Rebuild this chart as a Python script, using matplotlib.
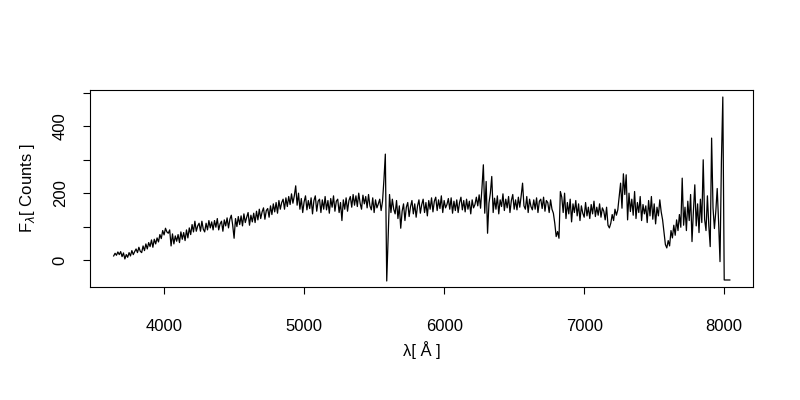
"""Spectrum plot: flux in counts versus wavelength, R-base-graphics look."""

import numpy as np
import matplotlib
matplotlib.use("Agg")
import matplotlib.pyplot as plt

plt.rcParams["font.family"] = ["Liberation Sans", "DejaVu Sans"]

# wavelength grid (Angstrom) and flux (counts),
# one row per 100 A starting at 3640
WL_START, WL_STEP = 3640, 10
flux = [
    12, 20, 14, 24, 16, 25, 10, 21, 3, 16,                 # 3640
    8, 22, 12, 28, 16, 25, 33, 22, 38, 26,                 # 3740
    22, 42, 28, 48, 33, 52, 40, 60, 38, 62,                # 3840
    48, 66, 54, 76, 64, 88, 75, 95, 84, 80,                # 3940
    90, 42, 78, 48, 72, 56, 76, 52, 84, 62,                # 4040
    82, 58, 90, 66, 96, 76, 106, 84, 116, 86,              # 4140
    102, 110, 86, 116, 92, 84, 110, 90, 118, 96,           # 4240
    114, 90, 118, 98, 124, 90, 108, 116, 86, 120,          # 4340
    102, 126, 96, 122, 134, 104, 65, 124, 100, 130,        # 4440
    106, 132, 102, 138, 112, 128, 142, 104, 134, 114,      # 4540
    140, 112, 146, 120, 152, 124, 144, 156, 122, 148,      # 4640
    154, 128, 162, 136, 168, 144, 172, 140, 178, 152,      # 4740
    172, 182, 152, 186, 160, 190, 166, 198, 170, 192,      # 4840
    222, 164, 200, 152, 184, 142, 174, 192, 150, 178,      # 4940
    154, 186, 138, 178, 192, 146, 176, 182, 142, 180,      # 5040
    152, 190, 150, 178, 140, 184, 158, 192, 146, 176,      # 5140
    182, 142, 172, 118, 180, 152, 186, 146, 178, 190,      # 5240
    158, 196, 164, 192, 160, 200, 170, 152, 194, 168,      # 5340
    190, 156, 196, 162, 150, 186, 142, 180, 156, 168,      # 5440
    182, 148, 176, 240, 317, -63, 65, 196, 142, 182,       # 5540
    152, 138, 178, 124, 162, 95, 146, 168, 118, 158,       # 5640
    172, 130, 160, 178, 138, 168, 128, 162, 180, 140,      # 5740
    166, 182, 142, 172, 132, 178, 152, 186, 144, 176,      # 5840
    188, 148, 180, 154, 192, 142, 178, 156, 166, 184,      # 5940
    152, 186, 140, 176, 148, 180, 142, 172, 188, 150,      # 6040
    178, 144, 182, 152, 176, 138, 180, 156, 166, 188,      # 6140
    162, 195, 155, 215, 285, 140, 235, 80, 170, 200,       # 6240
    250, 142, 185, 152, 192, 138, 180, 160, 198, 148,      # 6340
    182, 156, 190, 142, 178, 196, 152, 180, 150, 188,      # 6440
    158, 192, 230, 162, 152, 190, 142, 182, 160, 150,      # 6540
    180, 152, 186, 142, 176, 182, 154, 188, 146, 178,      # 6640
    172, 142, 180, 152, 140, 110, 70, 85, 65, 205,         # 6740
    188, 142, 200, 124, 172, 138, 182, 114, 168, 142,      # 6840
    178, 132, 168, 118, 162, 140, 128, 172, 132, 158,      # 6940
    124, 166, 138, 176, 130, 158, 134, 168, 128, 156,      # 7040
    146, 120, 158, 104, 96, 110, 136, 118, 152, 134,       # 7140
    150, 190, 230, 155, 258, 196, 255, 120, 200, 145,      # 7240
    182, 134, 205, 124, 172, 142, 190, 118, 166, 138,      # 7340
    162, 112, 178, 132, 190, 122, 168, 108, 158, 132,      # 7440
    180, 144, 120, 84, 46, 36, 58, 42, 88, 66,             # 7540
    104, 74, 120, 88, 136, 98, 245, 104, 158, 88,          # 7640
    176, 118, 196, 55, 146, 225, 102, 168, 82, 182,        # 7740
    112, 300, 122, 88, 192, 102, 40, 365, 156, 94,         # 7840
    146, 214, 112, -5, 296, 488,                           # 7940
    -60, -60, -60, -60, -60,                               # 8000 (flat tail)
]
wavelength = WL_START + WL_STEP * np.arange(len(flux))

x_ticks = [4000, 5000, 6000, 7000, 8000]
y_ticks = [0, 100, 200, 300, 400, 500]
y_tick_labels = ["0", "", "200", "", "400", ""]

fig = plt.figure(figsize=(8, 4), dpi=100)
ax = fig.add_axes([0.1125, 0.2825, 0.829, 0.4925])
ax.plot(wavelength, flux, color="black", lw=0.9)

ax.set_xlim(3471, 8207)
ax.set_ylim(-81, 509)
ax.set_xticks(x_ticks)
ax.set_yticks(y_ticks)
ax.set_yticklabels(y_tick_labels, rotation=90, va="center")
ax.tick_params(direction="out", length=5, width=0.8, labelsize=12)
ax.tick_params(axis="x", pad=18)
ax.tick_params(axis="y", pad=11)
for s in ax.spines.values():
    s.set_linewidth(0.8)

ax.set_xlabel("λ[ Å ]", fontsize=12, labelpad=5)
ax.set_ylabel(r"F$_\lambda$[ Counts ]", fontsize=12, labelpad=11)

fig.savefig("out.png", dpi=100)
